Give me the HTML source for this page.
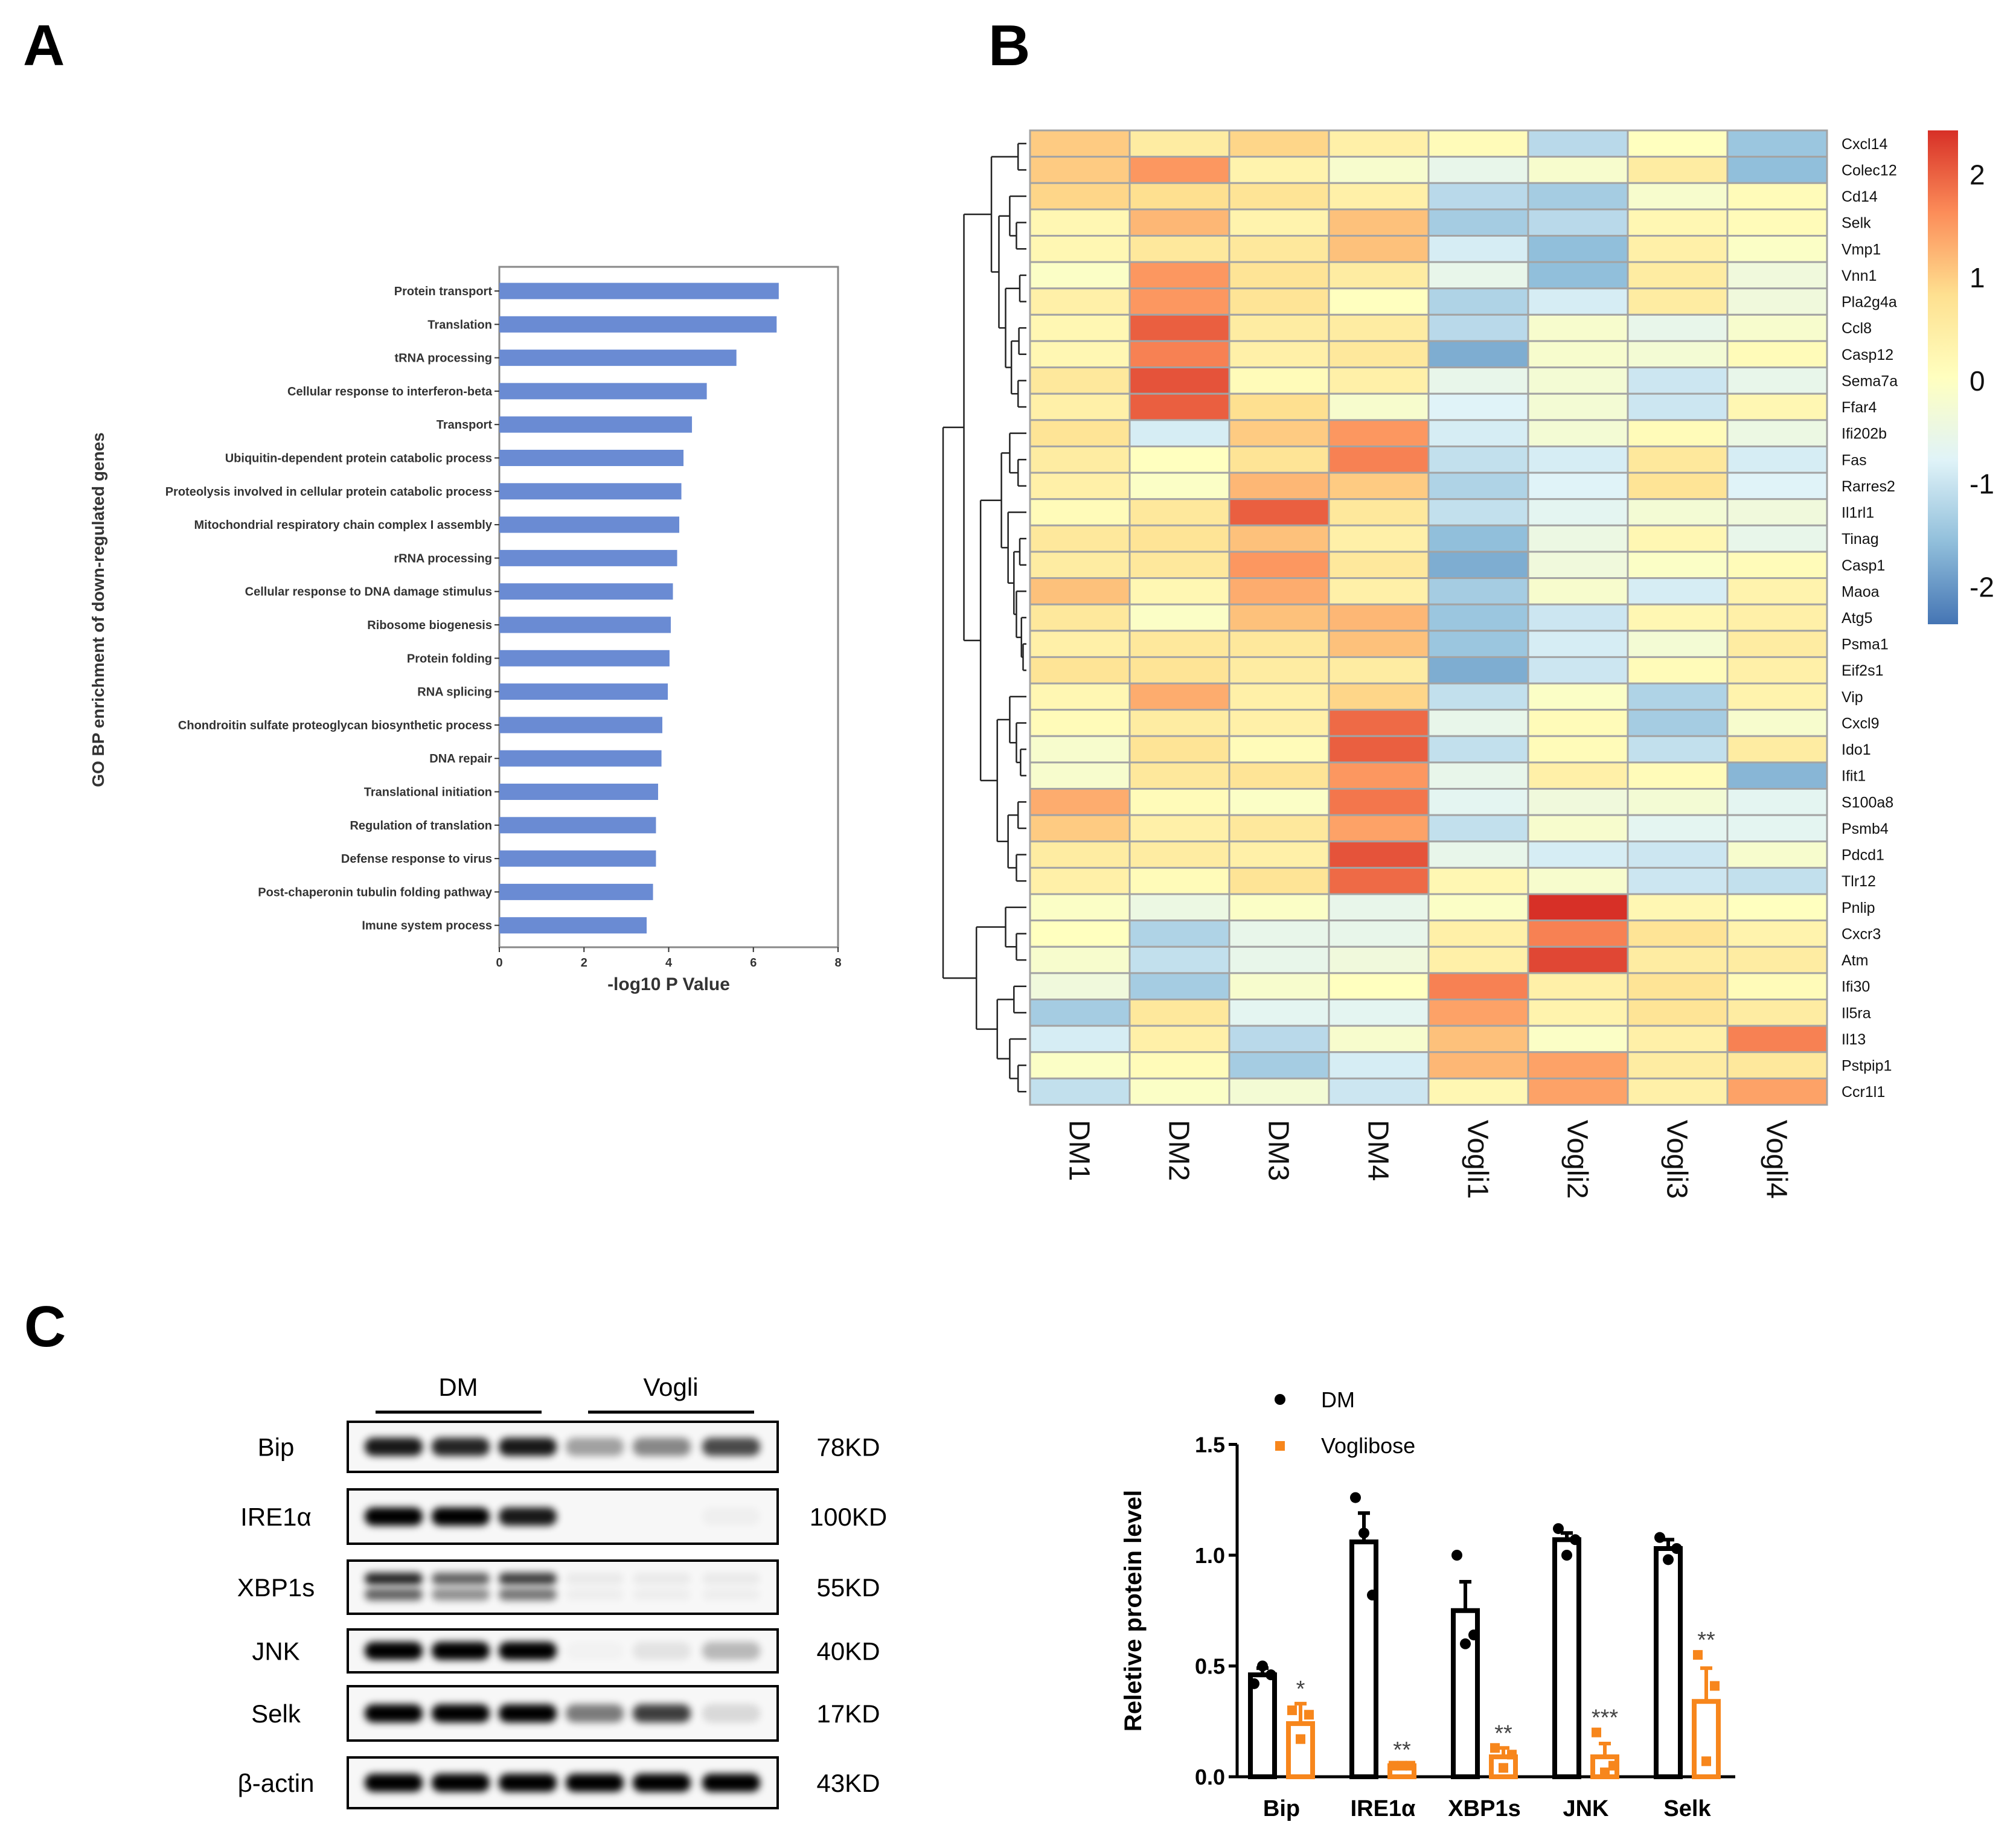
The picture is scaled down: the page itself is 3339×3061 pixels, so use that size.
<!DOCTYPE html>
<html><head><meta charset="utf-8">
<style>
html,body{margin:0;padding:0;background:#fff;}
svg{display:block;font-family:"Liberation Sans",Arial,sans-serif;}
</style></head>
<body>
<svg id="fig" width="3339" height="3061" viewBox="0 0 3339 3061" xmlns="http://www.w3.org/2000/svg">
<defs>
<filter id="blur" x="-20%" y="-100%" width="140%" height="300%"><feGaussianBlur stdDeviation="6"/></filter>
<linearGradient id="cbar" x1="0" y1="0" x2="0" y2="1">
<stop offset="0" stop-color="#D73027"/><stop offset="0.167" stop-color="#FC8D59"/><stop offset="0.333" stop-color="#FEE090"/><stop offset="0.5" stop-color="#FFFFBF"/><stop offset="0.667" stop-color="#E0F3F8"/><stop offset="0.833" stop-color="#91BFDB"/><stop offset="1" stop-color="#4575B4"/>
</linearGradient>
</defs>
<text x="38" y="108" font-size="96" font-weight="bold">A</text>
<text x="1637" y="108" font-size="96" font-weight="bold">B</text>
<text x="40" y="2230" font-size="96" font-weight="bold">C</text>
<g id="pa"></g>
<g id="pb"></g>
<g id="pc1"></g>
<g id="pc2"></g>
</svg>
<script>
const NS="http://www.w3.org/2000/svg";
function mk(parent,tag,attrs,text){const e=document.createElementNS(NS,tag);for(const k in attrs)e.setAttribute(k,attrs[k]);if(text!==undefined)e.textContent=text;parent.appendChild(e);return e;}

const goTerms=["Protein transport","Translation","tRNA processing","Cellular response to interferon-beta","Transport","Ubiquitin-dependent protein catabolic process","Proteolysis involved in cellular protein catabolic process","Mitochondrial respiratory chain complex I assembly","rRNA processing","Cellular response to DNA damage stimulus","Ribosome biogenesis","Protein folding","RNA splicing","Chondroitin sulfate proteoglycan biosynthetic process","DNA repair","Translational initiation","Regulation of translation","Defense response to virus","Post-chaperonin tubulin folding pathway","Imune system process"];
const goValues=[6.6,6.55,5.6,4.9,4.55,4.35,4.3,4.25,4.2,4.1,4.05,4.02,3.98,3.85,3.83,3.75,3.7,3.7,3.63,3.48];
const goTicks=[0,2,4,6,8];

const genes=["Cxcl14","Colec12","Cd14","Selk","Vmp1","Vnn1","Pla2g4a","Ccl8","Casp12","Sema7a","Ffar4","Ifi202b","Fas","Rarres2","Il1rl1","Tinag","Casp1","Maoa","Atg5","Psma1","Eif2s1","Vip","Cxcl9","Ido1","Ifit1","S100a8","Psmb4","Pdcd1","Tlr12","Pnlip","Cxcr3","Atm","Ifi30","Il5ra","Il13","Pstpip1","Ccr1l1"];
const samples=["DM1","DM2","DM3","DM4","Vogli1","Vogli2","Vogli3","Vogli4"];
const zvals=[
[1.0,0.5,0.9,0.4,0.1,-1.2,0.0,-1.5],
[1.0,1.5,0.3,-0.2,-0.6,-0.2,0.5,-1.6],
[0.9,0.8,0.7,0.4,-1.2,-1.4,-0.2,0.1],
[0.2,1.2,0.3,1.1,-1.4,-1.2,0.2,0.1],
[0.2,0.6,0.6,1.1,-0.9,-1.6,0.4,-0.1],
[-0.1,1.5,0.7,0.5,-0.6,-1.6,0.5,-0.4],
[0.4,1.5,0.7,0.0,-1.3,-0.9,0.5,-0.4],
[0.2,2.0,0.5,0.5,-1.2,-0.2,-0.6,-0.2],
[0.2,1.7,0.4,0.6,-1.8,-0.2,-0.3,0.1],
[0.6,2.1,0.1,0.4,-0.6,-0.3,-1.0,-0.6],
[0.4,2.0,0.8,-0.2,-0.8,-0.3,-1.0,0.2],
[0.7,-0.9,1.0,1.5,-0.9,-0.3,0.1,-0.5],
[0.5,0.0,0.7,1.7,-1.1,-0.9,0.6,-0.9],
[0.4,-0.1,1.2,1.0,-1.3,-0.8,0.7,-0.8],
[0.1,0.6,2.0,0.6,-1.1,-0.7,-0.3,-0.4],
[0.6,0.7,1.1,0.4,-1.6,-0.5,0.2,-0.6],
[0.5,0.6,1.5,0.6,-1.8,-0.4,-0.1,0.1],
[1.1,0.2,1.3,0.4,-1.4,-0.2,-0.9,0.3],
[0.6,-0.1,1.1,1.2,-1.5,-1.0,0.2,0.4],
[0.4,0.6,0.6,1.1,-1.5,-0.9,-0.3,0.5],
[0.7,0.7,0.5,0.5,-1.8,-1.0,0.1,0.4],
[0.2,1.3,0.4,0.9,-1.1,-0.1,-1.3,0.3],
[0.1,0.5,0.4,1.9,-0.6,0.1,-1.4,-0.2],
[-0.2,0.7,0.1,2.0,-1.1,0.1,-1.1,0.5],
[-0.2,0.6,0.7,1.5,-0.6,0.4,0.1,-1.7],
[1.3,0.1,-0.1,1.8,-0.7,-0.4,-0.3,-0.7],
[1.0,0.4,0.6,1.4,-1.1,-0.2,-0.7,-0.7],
[0.5,0.5,0.4,2.1,-0.6,-0.9,-1.0,-0.2],
[0.4,0.1,0.7,1.9,0.2,-0.2,-1.0,-1.1],
[-0.1,-0.5,-0.1,-0.6,-0.1,2.6,0.2,0.0],
[0.0,-1.3,-0.6,-0.6,0.4,1.7,0.7,0.3],
[-0.2,-1.1,-0.6,-0.4,0.4,2.2,0.5,0.5],
[-0.4,-1.4,-0.2,0.0,1.7,0.4,0.7,0.1],
[-1.4,0.6,-0.7,-0.7,1.4,0.3,0.7,0.5],
[-0.9,0.4,-1.2,-0.2,1.1,-0.1,0.4,1.7],
[-0.1,0.1,-1.4,-0.9,1.2,1.4,0.5,0.6],
[-1.1,-0.1,-0.3,-1.0,0.2,1.4,0.4,1.4]];
const cbarTicks=[2,1,0,-1,-2];
const dendro=[1.0,
 [0.75,
  [0.42,[0.1,0,1],[0.33,[0.2,2,[0.12,3,4]],[0.25,[0.08,5,6],[0.18,[0.09,7,8],[0.1,9,10]]]]],
  [0.55,[0.3,[0.2,11,[0.1,12,13]],[0.22,14,[0.15,[0.08,15,16],[0.12,17,[0.06,18,[0.04,19,20]]]]]],
        [0.35,[0.2,21,[0.12,22,[0.07,23,24]]],[0.22,[0.1,25,26],[0.12,27,28]]]]],
 [0.6,[0.25,29,[0.12,30,31]],[0.35,[0.15,32,33],[0.2,34,[0.1,35,36]]]]];

const proteins=["Bip","IRE1α","XBP1s","JNK","Selk"];
const dmMean=[0.46,1.06,0.75,1.07,1.03];
const dmErr=[0.03,0.13,0.13,0.03,0.04];
const vgMean=[0.24,0.05,0.09,0.09,0.34];
const vgErr=[0.09,0.005,0.04,0.06,0.15];
const dmPts=[[0.42,0.5,0.46],[1.26,1.1,0.82],[1.0,0.6,0.64],[1.12,1.0,1.07],[1.08,0.98,1.03]];
const vgPts=[[0.3,0.17,0.28],[0.05,0.05,0.05],[0.13,0.04,0.1],[0.2,0.02,0.05],[0.55,0.07,0.41]];
const sigLabels=["*","**","**","***","**"];
const yTicksC=[0.0,0.5,1.0,1.5];
const blotNames=["Bip","IRE1α","XBP1s","JNK","Selk","β-actin"];
const blotKD=["78KD","100KD","55KD","40KD","17KD","43KD"];
const bandInt=[[0.9,0.85,0.9,0.35,0.45,0.7],[1,1,0.9,0,0,0.03],[0.85,0.6,0.75,0.05,0.05,0.05],[1,1,1,0.02,0.08,0.25],[1,1,1,0.5,0.75,0.12],[1,1,1,1,1,1]];

(function(){
const g=document.getElementById('pa');
const L=827,R=1388,T=442,B=1569;
const x=v=>L+(v-0)/(8-0)*(R-L);
const y0=482,dy=55.3,bh=27;
const box=mk(g,'rect',{x:L,y:T,width:R-L,height:B-T,fill:'none',stroke:'#888','stroke-width':3});

goValues.forEach((v,i)=>{
 const cy=y0+i*dy;
 const r=mk(g,'rect',{x:L,y:cy-bh/2,width:x(v)-L,height:bh,fill:'#6a8bd3'});
 
 mk(g,'line',{x1:L-8,x2:L,y1:cy,y2:cy,stroke:'#333','stroke-width':2});
 const t=mk(g,'text',{x:L-12,y:cy+7,'font-size':20,'font-weight':'bold',fill:'#333','text-anchor':'end'},goTerms[i]);
 
});
goTicks.forEach(v=>{
 mk(g,'line',{x1:x(v),x2:x(v),y1:B,y2:B+8,stroke:'#333','stroke-width':2});
 const t=mk(g,'text',{x:x(v),y:B+32,'font-size':20,'font-weight':'bold',fill:'#333','text-anchor':'middle'},v);
 
});
const xt=mk(g,'text',{x:(L+R)/2,y:1640,'font-size':30,'font-weight':'bold',fill:'#333','text-anchor':'middle'},'-log10 P Value');

const yt=mk(g,'text',{x:0,y:0,'font-size':28,'font-weight':'bold',fill:'#333','text-anchor':'middle',transform:'translate(172,1010) rotate(-90)'},'GO BP enrichment of down-regulated genes');

})();

(function(){
const g=document.getElementById('pb');
const L=1706,R=3026,T=216,B=1830;
const cw=(R-L)/samples.length,rh=(B-T)/genes.length;
const stops=["#4575B4","#91BFDB","#E0F3F8","#FFFFBF","#FEE090","#FC8D59","#D73027"];
const vmin=-2.4,vmax=2.4;
function hex(h){return [1,3,5].map(i=>parseInt(h.substr(i,2),16));}
function color(v){let t=(v-vmin)/(vmax-vmin);t=Math.max(0,Math.min(1,t))*(stops.length-1);const i=Math.min(Math.floor(t),stops.length-2),f=t-i;const a=hex(stops[i]),b=hex(stops[i+1]);return 'rgb('+a.map((c,k)=>Math.round(c+(b[k]-c)*f)).join(',')+')';}
zvals.forEach((row,r)=>row.forEach((v,c)=>{
 const e=mk(g,'rect',{x:L+c*cw,y:T+r*rh,width:cw,height:rh,fill:color(v),stroke:'#a3a3a3','stroke-width':3});
 
}));
genes.forEach((n,r)=>{
 const t=mk(g,'text',{x:3050,y:T+(r+0.5)*rh+9,'font-size':25,fill:'#111'},n);
 
});
samples.forEach((n,c)=>{
 const cx=L+(c+0.5)*cw;
 const t=mk(g,'text',{x:0,y:0,'font-size':48,fill:'#111',transform:'translate('+(cx-17)+',1855) rotate(90)'},n);
 
});
const xl=1700,xr=1562;
function draw(node){
 if(typeof node==='number'){return {x:xl,y:T+(node+0.5)*rh};}
 const a=draw(node[1]),b=draw(node[2]);
 const nx=xl-node[0]*(xl-xr);
 mk(g,'line',{x1:nx,x2:nx,y1:a.y,y2:b.y,stroke:'#222','stroke-width':2.5});
 mk(g,'line',{x1:nx,x2:a.x,y1:a.y,y2:a.y,stroke:'#222','stroke-width':2.5});
 mk(g,'line',{x1:nx,x2:b.x,y1:b.y,y2:b.y,stroke:'#222','stroke-width':2.5});
 return {x:nx,y:(a.y+b.y)/2};
}
draw(dendro);
const cb=mk(g,'rect',{x:3193,y:216,width:50,height:818,fill:'url(#cbar)'});

const cy=v=>216+(2.43-v)/(2.43+2.36)*818;
cbarTicks.forEach(v=>{
 const t=mk(g,'text',{x:3262,y:cy(v)+16,'font-size':46,fill:'#111'},v);
 
});
})();

(function(){
const g=document.getElementById('pc1');
const boxes=[[2355,2438],[2467,2557],[2585,2673],[2699,2770],[2793,2883],[2911,2995]];
const lanes=[652,763,874,985,1096,1211];
const t1=mk(g,'text',{x:759,y:2312,'font-size':42,'text-anchor':'middle'},'DM');
const t2=mk(g,'text',{x:1111,y:2312,'font-size':42,'text-anchor':'middle'},'Vogli');
mk(g,'line',{x1:622,x2:897,y1:2339,y2:2339,stroke:'#000','stroke-width':5});
mk(g,'line',{x1:974,x2:1249,y1:2339,y2:2339,stroke:'#000','stroke-width':5});
boxes.forEach((bx,i)=>{
 const [y1,y2]=bx,cy=(y1+y2)/2;
 const bb=mk(g,'rect',{x:576,y:y1,width:712,height:y2-y1,fill:'#f7f7f7',stroke:'#000','stroke-width':4});
 
 lanes.forEach((lx,j)=>{
  const v=bandInt[i][j];
  if(v<=0)return;
  if(i===2){
   mk(g,'rect',{x:lx-48,y:cy-24,width:96,height:20,rx:10,fill:'#000',opacity:v,filter:'url(#blur)'});
   mk(g,'rect',{x:lx-48,y:cy+2,width:96,height:20,rx:10,fill:'#000',opacity:v*0.7,filter:'url(#blur)'});
  }else{
   const e=mk(g,'rect',{x:lx-48,y:cy-15,width:96,height:30,rx:14,fill:'#000',opacity:v,filter:'url(#blur)'});
   
  }
 });
 const n=mk(g,'text',{x:457,y:cy+15,'font-size':42,'text-anchor':'middle'},blotNames[i]);
 
 const k=mk(g,'text',{x:1405,y:cy+15,'font-size':42,'text-anchor':'middle'},blotKD[i]);
 
});
})();

(function(){
const g=document.getElementById('pc2');
const X0=2049,X1=2874,Y0=2943;
const y=v=>Y0-v*367;
const gx=i=>2091+i*168;
const bw=40,off=63,orange='#F7861C';
mk(g,'line',{x1:X0,x2:X0,y1:y(1.5),y2:Y0,stroke:'#000','stroke-width':5});
mk(g,'line',{x1:X0,x2:X1,y1:Y0,y2:Y0,stroke:'#000','stroke-width':5});
yTicksC.forEach(v=>{
 mk(g,'line',{x1:X0-14,x2:X0,y1:y(v),y2:y(v),stroke:'#000','stroke-width':5});
 const t=mk(g,'text',{x:X0-20,y:y(v)+13,'font-size':36,'font-weight':'bold','text-anchor':'end'},v.toFixed(1));
 
});
const yt=mk(g,'text',{x:0,y:0,'font-size':40,'font-weight':'bold','text-anchor':'middle',transform:'translate(1890,2668) rotate(-90)'},'Reletive protein level');

function bar(cx,m,e,pts,col,sq){
 const r=mk(g,'rect',{x:cx-bw/2,y:y(m),width:bw,height:Y0-y(m),fill:'#fff',stroke:col,'stroke-width':8});
 
 mk(g,'line',{x1:cx,x2:cx,y1:y(m),y2:y(m+e),stroke:col,'stroke-width':6});
 mk(g,'line',{x1:cx-10,x2:cx+10,y1:y(m+e),y2:y(m+e),stroke:col,'stroke-width':6});
 pts.forEach((p,k)=>{
  const px=cx+(k-1)*14;
  const d=sq?mk(g,'rect',{x:px-8,y:y(p)-8,width:16,height:16,fill:col}):mk(g,'circle',{cx:px,cy:y(p),r:9,fill:col});
  
 });
}
proteins.forEach((p,i)=>{
 bar(gx(i),dmMean[i],dmErr[i],dmPts[i],'#000',false);
 bar(gx(i)+off,vgMean[i],vgErr[i],vgPts[i],orange,true);
 const top=Math.max(vgMean[i]+vgErr[i],...vgPts[i]);
 const s=mk(g,'text',{x:gx(i)+off,y:y(top)-12,'font-size':38,fill:'#444','text-anchor':'middle'},sigLabels[i]);
 
 const t=mk(g,'text',{x:gx(i)+off/2,y:3008,'font-size':38,'font-weight':'bold','text-anchor':'middle'},p);
 
});
const l1=mk(g,'circle',{cx:2120,cy:2318,r:9,fill:'#000'});
const lt1=mk(g,'text',{x:2188,y:2331,'font-size':36},'DM');
const l2=mk(g,'rect',{x:2112,y:2387,width:16,height:16,fill:orange});
const lt2=mk(g,'text',{x:2188,y:2407,'font-size':36},'Voglibose');
})();
</script>
</body></html>
